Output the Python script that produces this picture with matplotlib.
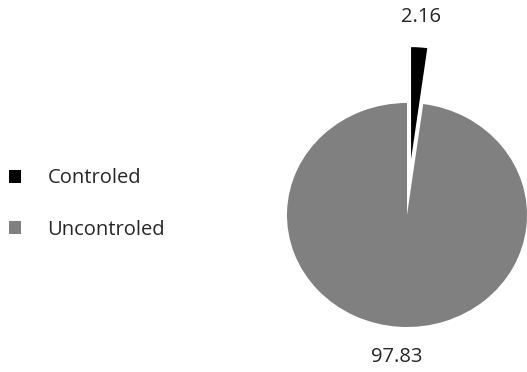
import matplotlib.pyplot as plt

# share of each group (%)
labels = ["Controled", "Uncontroled"]
values = [2.16, 97.83]
colors = ["#000000", "#808080"]
explode = [0.5, 0.0]

plt.rcParams["font.family"] = ["Open Sans", "DejaVu Sans"]

fig = plt.figure(figsize=(5.27, 3.72), dpi=100)
W, H = 527, 372

# pie axes: centre at (407, 215) px, radii 120 x 112 px, limits +-1.6
L = 1.6
cx, cy, rx, ry = 407, 215, 120, 112
ax = fig.add_axes([(cx - L * rx) / W, (H - cy - L * ry) / H, 2 * L * rx / W, 2 * L * ry / H])

wedges, texts = ax.pie(values, labels=[f"{v:.2f}" for v in values], colors=colors,
                       explode=explode, startangle=90, counterclock=False,
                       labeldistance=1.27, wedgeprops=dict(linewidth=0),
                       textprops=dict(fontsize=14.5, color="#262626"))
for t in texts:
    t.set_ha("center")
    t.set_va("center")

ax.set_aspect("auto")
ax.set_xlim(-L, L)
ax.set_ylim(-L, L)
ax.axis("off")

fig.legend(wedges, labels, loc="center left", bbox_to_anchor=(9 / W, 1 - 204 / H),
           frameon=False, fontsize=14.5, labelcolor="#262626",
           handlelength=0.6, handleheight=0.6, handletextpad=1.3,
           labelspacing=1.55, borderaxespad=0.0, borderpad=0.0)

fig.savefig("out.png", dpi=100)
